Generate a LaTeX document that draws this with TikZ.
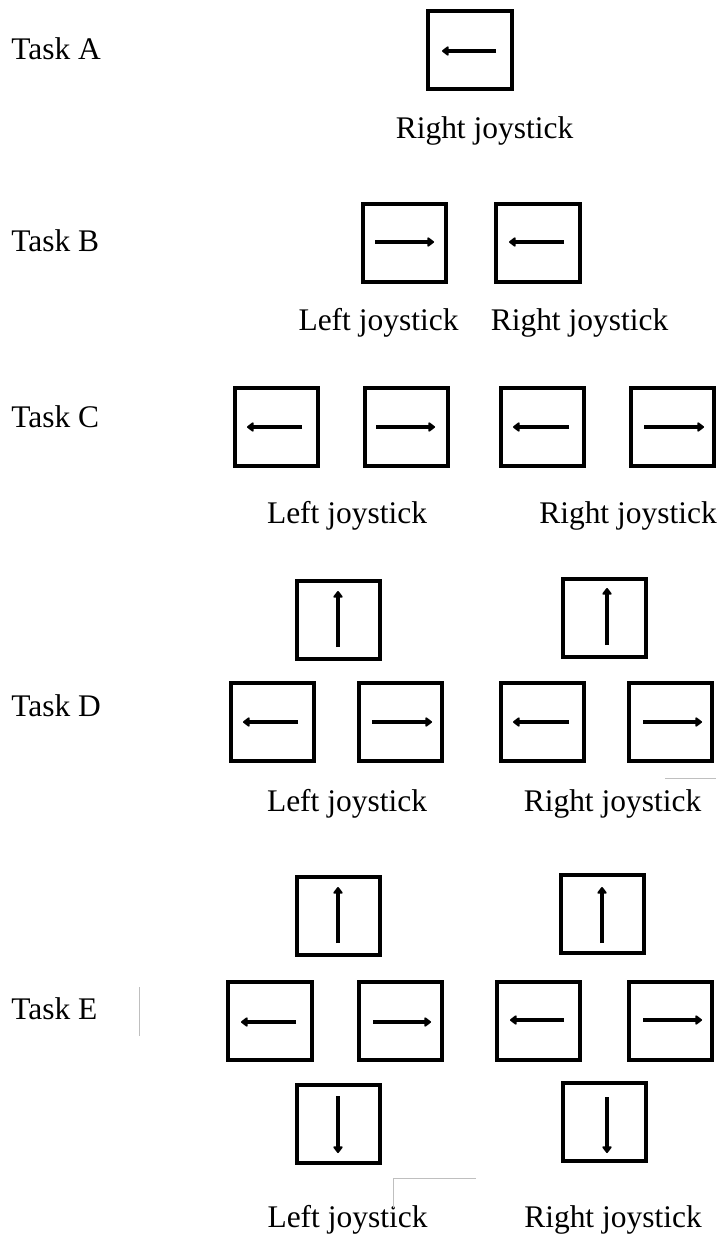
\documentclass[tikz,border=0pt]{standalone}
\usepackage{fontspec}
\setmainfont{Liberation Serif}
\usetikzlibrary{arrows.meta}
\begin{document}
\begin{tikzpicture}[x=0.75pt,y=-0.75pt,
  keybox/.style={draw,line width=3pt,inner sep=0pt,minimum width=62.5pt,minimum height=58.5pt},
  keyarr/.style={line width=2.6pt,-{Triangle[length=5.5pt,width=8pt,round]}},
  lbl/.style={inner sep=0pt,font=\fontsize{23.6pt}{28pt}\selectfont},
  artifact/.style={draw=black!25,line width=0.6pt}]
\useasboundingbox[fill=white] (0,0) rectangle (721,1234);
% Task labels
\node[lbl,anchor=base west] (tA) at (11,60) {Task A};
\node[lbl,anchor=base west] (tB) at (11,251) {Task B};
\node[lbl,anchor=base west] (tC) at (11,427) {Task C};
\node[lbl,anchor=base west] (tD) at (11,716) {Task D};
\node[lbl,anchor=base west] (tE) at (11,1019) {Task E};
% Task A
\node[keybox] (a1) at (470,50.5) {};
\draw[keyarr] (496,51) -- (442,51);
\node[lbl,anchor=base] (aR) at (484.5,139) {Right joystick};
% Task B
\node[keybox] (b1) at (404.5,242.5) {};
\node[keybox] (b2) at (538,242.5) {};
\draw[keyarr] (375,242) -- (434,242);
\draw[keyarr] (564,242) -- (509,242);
\node[lbl,anchor=base] (bL) at (378.5,330) {Left joystick};
\node[lbl,anchor=base] (bR) at (579.5,330) {Right joystick};
% Task C
\node[keybox] (c1) at (276.5,427) {};
\node[keybox] (c2) at (406.5,427) {};
\node[keybox] (c3) at (542.5,427) {};
\node[keybox] (c4) at (672.5,427) {};
\draw[keyarr] (302,427) -- (247,427);
\draw[keyarr] (376,427) -- (435,427);
\draw[keyarr] (569,427) -- (513,427);
\draw[keyarr] (644,427) -- (704,427);
\node[lbl,anchor=base] (cL) at (347,523) {Left joystick};
\node[lbl,anchor=base] (cR) at (628,523) {Right joystick};
% Task D
\node[keybox] (d1) at (338.5,619.5) {};
\node[keybox] (d2) at (604.5,617.5) {};
\draw[keyarr] (338,647) -- (338,591);
\draw[keyarr] (607,645) -- (607,588);
\node[keybox] (d3) at (272.5,721.5) {};
\node[keybox] (d4) at (400.5,721.5) {};
\node[keybox] (d5) at (542.5,721.5) {};
\node[keybox] (d6) at (670.5,721.5) {};
\draw[keyarr] (298,722) -- (243,722);
\draw[keyarr] (372,722) -- (432,722);
\draw[keyarr] (569,722) -- (513,722);
\draw[keyarr] (643,722) -- (702,722);
\node[lbl,anchor=base] (dL) at (347,811) {Left joystick};
\node[lbl,anchor=base] (dR) at (612.5,811) {Right joystick};
% Task E
\node[keybox] (e1) at (338.5,916) {};
\node[keybox] (e2) at (602.5,914) {};
\draw[keyarr] (338,943) -- (338,887);
\draw[keyarr] (602,943) -- (602,887);
\node[keybox] (e3) at (270,1021) {};
\node[keybox] (e4) at (400.5,1021) {};
\node[keybox] (e5) at (538.5,1021) {};
\node[keybox] (e6) at (670.5,1021) {};
\draw[keyarr] (296,1022) -- (241,1022);
\draw[keyarr] (373,1022) -- (431,1022);
\draw[keyarr] (564,1020) -- (510,1020);
\draw[keyarr] (643,1020) -- (702,1020);
\node[keybox] (e7) at (338.5,1124) {};
\node[keybox] (e8) at (604.5,1121.5) {};
\draw[keyarr] (338,1096) -- (338,1153);
\draw[keyarr] (607,1097) -- (607,1153);
\node[lbl,anchor=base] (eL) at (347.5,1227) {Left joystick};
\node[lbl,anchor=base] (eR) at (613,1227) {Right joystick};
% faint stray lines
\draw[artifact] (665,778) -- (716,778);
\draw[artifact] (139,987) -- (139,1036);
\draw[artifact] (393,1208) -- (393,1178) -- (476,1178);
\end{tikzpicture}
\end{document}
